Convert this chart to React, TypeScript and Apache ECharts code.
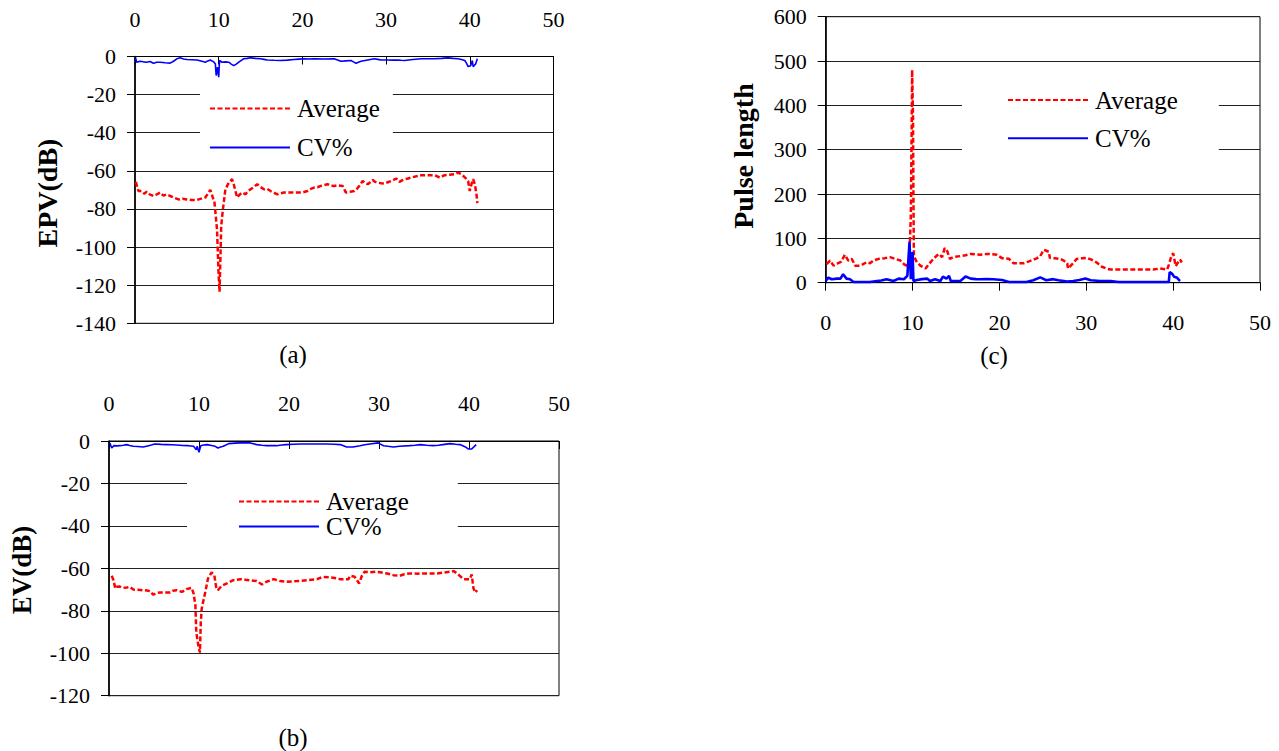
import React, { useEffect, useRef } from "react";
import * as echarts from "echarts";

const FONT = "Liberation Serif";

// ---- (a) EPV(dB) ----
const epvAverage: [number, number][] = [
  [0.1, -65.8], [0.3, -69], [0.4, -70.6], [0.8, -70.6], [1.1, -72], [1.4, -71], [1.8, -72.5], [2.2, -73.2],
  [2.6, -72.4], [3, -71.4], [3.4, -73], [3.8, -72.3], [4.2, -73.2], [4.6, -74], [5.2, -75], [5.7, -74.6],
  [6.2, -75], [6.8, -75.3], [7.4, -75.3], [7.9, -74.6], [8.4, -74], [8.7, -72], [9, -70], [9.3, -74],
  [9.5, -76.7], [9.8, -90.8], [10, -115.4], [10.1, -123.4], [10.2, -106.6], [10.3, -89], [10.5, -80.3],
  [10.8, -69.7], [11.2, -66.2], [11.6, -64.4], [11.8, -67], [12, -70.6], [12.2, -74], [12.5, -72.5],
  [12.8, -71.4], [13.2, -72.3], [13.5, -70.5], [13.8, -69.7], [14.2, -68.5], [14.6, -67], [15, -68.5],
  [15.4, -69.7], [15.8, -69.5], [16.2, -70.6], [16.6, -71.5], [17, -72.3], [17.4, -71.8], [17.8, -71.4],
  [18.6, -71.4], [19.4, -71.4], [20, -71.4], [20.6, -70.6], [21, -69.5], [21.4, -68.8], [21.8, -68.6],
  [22.2, -67.9], [22.6, -67.5], [23, -67], [23.4, -67.8], [23.8, -67.9], [24.3, -67.6], [24.8, -67.9],
  [25.2, -71.4], [25.7, -71], [26.2, -70.6], [26.5, -69.5], [26.8, -67.9], [27.2, -65.3], [27.5, -66.5],
  [27.8, -67], [28.1, -66], [28.4, -64.8], [28.7, -65.8], [29, -66.2], [29.4, -66.5], [29.8, -66.7],
  [30.2, -66], [30.6, -65.3], [31, -64.5], [31.2, -64], [31.6, -65.8], [31.9, -65], [32.2, -64.4],
  [32.6, -64], [33, -63.5], [33.5, -63], [34, -62.3], [35, -62.3], [35.8, -62.3], [36.4, -63.5],
  [37, -62.3], [37.6, -62], [38.2, -61.8], [38.6, -60.9], [39, -61.8], [39.2, -62.6], [39.5, -63.8],
  [39.8, -65.3], [40, -70.6], [40.2, -67], [40.4, -64.4], [40.6, -67], [40.8, -72.3], [40.9, -77],
];
const epvCv: [number, number][] = [
  [0.05, -0.4], [0.2, -3], [0.6, -2.5], [1, -2.8], [1.4, -3], [1.8, -2.6], [2.2, -3.5], [2.6, -3], [3, -3],
  [3.6, -3.3], [4.2, -3.5], [4.6, -2.5], [5, -1.2], [5.4, -0.7], [5.8, -1.3], [6.2, -1.6], [6.8, -1.7],
  [7.4, -1.8], [8, -2.5], [8.4, -3], [8.7, -2.3], [9, -1.8], [9.4, -2.8], [9.6, -3.9], [9.7, -10],
  [9.85, -5.6], [10, -10.9], [10.1, -2.1], [10.4, -3], [10.8, -2.8], [11.2, -3], [11.5, -4], [11.8, -4.8],
  [12.1, -4], [12.4, -3], [12.7, -2], [13, -1.2], [13.4, -1], [13.8, -0.7], [14.4, -1], [15, -1.2],
  [15.4, -1.5], [15.8, -1.8], [16.6, -2], [17.4, -2.1], [18.2, -1.9], [19, -1.6], [19.6, -1.4],
  [20.2, -1.2], [20.8, -1.3], [21.4, -1.2], [22.6, -1.3], [23.8, -1.2], [24.2, -1.8], [24.6, -2.5],
  [25.2, -2.3], [25.8, -2.1], [26.1, -2.8], [26.4, -3.5], [26.7, -3], [27, -2.5], [27.8, -1.8],
  [28.6, -1.2], [29, -1.5], [29.4, -1.8], [30.2, -1.8], [30.8, -1.9], [31.4, -1.8], [31.8, -2],
  [32.2, -2.1], [33.2, -1.6], [34.2, -1.2], [35, -1.2], [35.8, -1.2], [36.6, -1], [37.4, -0.7],
  [38, -1], [38.6, -1.2], [39, -1.6], [39.4, -2.1], [39.6, -3.5], [39.8, -5.3], [40.1, -4.8],
  [40.3, -2.1], [40.4, -5.3], [40.7, -3.9], [40.9, -1.2],
];

// ---- (b) EV(dB) ----
const evAverage: [number, number][] = [
  [0.3, -63.5], [0.5, -65.6], [0.7, -69.5], [0.85, -68.7], [1.2, -68.6], [1.6, -69.2], [2, -69], [2.3, -68.7],
  [2.7, -70], [3.2, -70.1], [3.8, -70.3], [4.2, -70.4], [4.6, -70.8], [4.9, -72.4], [5.3, -71.6], [5.7, -71.4],
  [6.2, -71.4], [6.8, -71.4], [7.1, -70.6], [7.5, -70.3], [8.1, -71.1], [8.6, -69.8], [9.2, -69.2],
  [9.4, -71.9], [9.6, -77.5], [9.7, -90.2], [9.9, -95.7], [10.1, -99.7], [10.2, -85.4], [10.3, -79],
  [10.5, -75], [10.7, -71.1], [11, -64.8], [11.4, -61.9], [11.7, -63.2], [11.9, -68.7], [12.1, -70.3],
  [12.5, -68.3], [13.1, -67.1], [13.8, -65.6], [14.6, -65.1], [15.2, -65.4], [15.7, -65.6], [16.4, -66],
  [17, -67.6], [17.5, -66.3], [18.3, -65.1], [19, -66], [19.7, -66.3], [20.3, -66.2], [20.9, -66],
  [22, -65.6], [23.1, -65.1], [23.8, -64], [24.9, -64.4], [25.7, -65.1], [26.6, -65.1], [26.8, -63.5],
  [27.3, -64], [27.8, -67.1], [28.1, -63.5], [28.4, -61.6], [29, -61.8], [29.7, -61.6], [30.3, -62],
  [30.9, -62.4], [31.6, -63.2], [32.3, -63.5], [32.8, -62.8], [33.4, -62.4], [34.3, -62.5], [35.3, -62.4],
  [36.4, -62.4], [37.2, -62], [37.9, -61.6], [38.3, -61.3], [38.8, -62.9], [39.4, -65.1], [40.1, -65.1],
  [40.3, -62.9], [40.5, -69.5], [40.7, -71.4], [40.9, -70.3],
];
const evCv: [number, number][] = [
  [0.1, -1], [0.3, -3.3], [0.55, -2.2], [0.9, -2.3], [1.2, -2.2], [1.6, -2], [1.96, -1.7], [2.3, -2.1],
  [2.7, -2.5], [3.2, -2.6], [3.8, -2.8], [4.4, -2.2], [4.8, -1.8], [5.1, -1.4], [5.8, -1.6], [6.4, -1.7],
  [7, -1.8], [7.5, -1.9], [8.2, -2.1], [8.8, -2.2], [9.4, -2.5], [9.7, -4.1], [9.8, -2.5], [10, -5.3],
  [10.2, -2.2], [10.5, -1.9], [10.9, -1.7], [11.4, -2.1], [11.8, -2.5], [12.1, -3.3], [12.4, -2.8],
  [12.7, -2.5], [13.3, -1.25], [14, -1], [14.6, -0.9], [15.2, -0.9], [15.7, -0.9], [16.4, -1.7], [17, -2],
  [17.5, -2.2], [18.1, -2.2], [18.6, -2.2], [19.2, -1.9], [19.7, -1.7], [20.5, -1.5], [21.2, -1.4],
  [22.5, -1.4], [24.2, -1.4], [25, -1.5], [25.7, -1.7], [26.4, -2.8], [27.1, -2.8], [27.9, -2.2],
  [28.4, -1.8], [29, -1.4], [29.9, -0.9], [30.5, -2.2], [31, -2.5], [31.6, -2.8], [32.3, -2.5],
  [33.4, -2.2], [34, -2], [34.6, -1.7], [35.3, -2], [36, -2.2], [36.6, -2], [37.1, -1.7], [37.9, -1.25],
  [38.5, -1.5], [39, -1.7], [39.6, -2.8], [39.9, -3.75], [40.3, -3.75], [40.6, -2.5], [40.8, -1.7],
];

// ---- (c) Pulse length ----
const pulseAverage: [number, number][] = [
  [0.1, 42], [0.5, 50], [0.9, 38.5], [1.2, 42], [1.5, 44.6], [1.8, 47.7], [2.2, 63], [2.6, 50], [3, 53.8],
  [3.4, 38.5], [4, 38.5], [4.7, 46], [5.1, 44], [5.5, 50], [6.1, 53.8], [6.8, 55.4], [7.4, 57.7], [8, 53.8],
  [8.6, 50], [9, 42], [9.3, 38.5], [9.6, 40], [9.8, 150], [9.9, 350], [9.95, 480], [10.05, 380],
  [10.1, 200], [10.15, 60], [10.5, 46], [10.9, 38.5], [11.5, 32], [11.8, 40], [12.4, 53.8], [13, 65],
  [13.4, 57.7], [13.7, 78], [14, 70.7], [14.3, 53.8], [14.7, 57.7], [15.5, 60], [16.1, 62], [16.7, 65],
  [17.2, 64], [17.8, 63], [18.6, 65], [19.2, 64], [19.7, 63], [20.3, 55.4], [21.1, 53.8], [21.6, 44],
  [22.2, 44], [22.8, 44], [23.4, 48], [23.9, 52], [24.3, 55], [24.7, 60], [25.1, 74.4], [25.4, 72],
  [25.7, 69.6], [25.8, 56], [26.4, 55], [27, 53.6], [27.4, 50], [27.8, 44], [27.9, 32], [28.3, 40],
  [28.9, 53.6], [29.5, 55], [30, 56], [30.6, 52], [31.2, 45.6], [31.8, 36], [32.3, 32], [32.8, 29.6],
  [33.8, 29.6], [34.7, 29.6], [35.5, 29.6], [36.2, 29.6], [37, 29.6], [37.7, 29.6], [38.5, 32],
  [39.3, 29.6], [39.5, 40], [39.8, 60], [40, 66.4], [40.3, 37.6], [40.5, 44], [40.8, 52], [41, 45.6],
];
const pulseCv: [number, number][] = [
  [0, 3.8], [0.3, 11.5], [0.7, 7.7], [1.3, 9.2], [1.7, 9.2], [2, 19], [2.4, 9.2], [2.8, 7.7], [3.2, 1.5],
  [4, 1.5], [5.1, 1.5], [5.9, 3.8], [6.4, 5], [7, 7.7], [7.8, 3.8], [8.4, 9.2], [9, 7.7], [9.4, 15.4],
  [9.65, 92], [9.8, 7.7], [10, 69], [10.1, 3.8], [10.5, 6], [11.1, 8], [11.7, 9.2], [12, 3.8], [12.6, 7.7],
  [13.2, 3.8], [13.5, 13.8], [13.9, 9.2], [14.2, 15.4], [14.4, 3.8], [15, 3.8], [15.5, 3.8], [16.1, 13.8],
  [16.7, 9.2], [17.3, 8], [17.8, 7.7], [18.5, 8], [19.3, 7.7], [20.3, 6], [21.1, 1.5], [21.6, 1.5],
  [22.4, 1.6], [23.1, 1.6], [23.9, 5.6], [24.7, 12], [25.4, 5.6], [26.2, 8], [26.8, 5.6], [27.8, 2.4],
  [28.5, 4], [29.2, 6], [29.9, 9.6], [30.5, 5.6], [31.6, 4], [32.8, 4], [33.7, 1.6], [35.5, 1.6],
  [37.4, 1.6], [38.9, 1.6], [39.5, 1.6], [39.6, 24], [39.9, 20], [40.1, 13.6], [40.4, 12], [40.7, 5.6],
  [40.8, 4],
];

const legendNames = ["Average", "CV%"];
const yTitles = ["EPV(dB)", "EV(dB)", "Pulse length"];
const captions = ["(a)", "(b)", "(c)"];

const labelStyle = { color: "#000", fontSize: 22, fontFamily: FONT };

function xAxisCfg(gridIndex: number, top: boolean, margin: number) {
  return {
    gridIndex,
    type: "value",
    position: top ? "top" : "bottom",
    min: 0,
    max: 50,
    interval: 10,
    axisLine: { show: true, onZero: false, lineStyle: { color: "#000", width: 1.2 } },
    axisTick: { show: true, inside: top, length: 8, lineStyle: { color: "#000", width: 1 } },
    axisLabel: { ...labelStyle, margin },
    splitLine: { show: false },
  };
}

function yAxisCfg(gridIndex: number, min: number, max: number, interval: number) {
  return {
    gridIndex,
    type: "value",
    min,
    max,
    interval,
    axisLine: { show: true, onZero: false, lineStyle: { color: "#000", width: 1.6 } },
    axisTick: { show: true, inside: false, length: 8, lineStyle: { color: "#000", width: 1 } },
    axisLabel: { ...labelStyle, margin: 19 },
    splitLine: { show: true, lineStyle: { color: "#222", width: 1 } },
  };
}

function legendCfg(left: number, top: number, padding: number[], itemGap: number) {
  return {
    show: true,
    orient: "vertical",
    left,
    top,
    padding,
    itemGap,
    itemWidth: 80,
    itemHeight: 14,
    backgroundColor: "#fff",
    borderWidth: 0,
    selectedMode: false,
    data: legendNames,
    itemStyle: { opacity: 0 },
    textStyle: { color: "#000", fontSize: 25, fontFamily: FONT, lineHeight: 25, padding: [0, 0, 0, 2] },
  };
}

function avgSeries(idx: number, data: [number, number][]) {
  return {
    type: "line",
    name: legendNames[0],
    xAxisIndex: idx,
    yAxisIndex: idx,
    data,
    symbol: "none",
    showSymbol: false,
    lineStyle: { color: "#ff0000", width: 2.5, type: [5, 2.5] },
    itemStyle: { color: "#ff0000" },
    z: 2,
  };
}

function cvSeries(idx: number, data: [number, number][], width: number) {
  return {
    type: "line",
    name: legendNames[1],
    xAxisIndex: idx,
    yAxisIndex: idx,
    data,
    symbol: "none",
    showSymbol: false,
    lineStyle: { color: "#0000ff", width, type: "solid" },
    itemStyle: { color: "#0000ff" },
    z: 3,
  };
}

function textEl(text: string, x: number, y: number, size: number, bold: boolean, rotate: boolean) {
  return {
    type: "text",
    x,
    y,
    rotation: rotate ? Math.PI / 2 : 0,
    style: {
      text,
      fill: "#000",
      fontSize: size,
      fontWeight: bold ? "bold" : "normal",
      fontFamily: FONT,
      align: "center",
      verticalAlign: "middle",
    },
  };
}

const gridBase = { show: true, borderColor: "#000", borderWidth: 1, backgroundColor: "transparent", containLabel: false, outerBoundsMode: "none" };

const option: any = {
  animation: false,
  backgroundColor: "#fff",
  textStyle: { fontFamily: FONT },
  grid: [
    { ...gridBase, left: 135, top: 56.5, width: 418.5, height: 266.8 },
    { ...gridBase, left: 109, top: 441, width: 450, height: 254.7 },
    { ...gridBase, left: 825.7, top: 16.7, width: 434.3, height: 266 },
  ],
  xAxis: [xAxisCfg(0, true, 26), xAxisCfg(1, true, 27), xAxisCfg(2, false, 29)],
  yAxis: [yAxisCfg(0, -140, 0, 20), yAxisCfg(1, -120, 0, 20), yAxisCfg(2, 0, 600, 100)],
  legend: [
    legendCfg(200, 82, [14, 13, 6, 9], 14),
    legendCfg(187, 478, [11, 49, 14, 51], 0),
    legendCfg(962, 78, [9.5, 41, 9, 45], 13.3),
  ],
  series: [
    avgSeries(0, epvAverage),
    cvSeries(0, epvCv, 1.6),
    avgSeries(1, evAverage),
    cvSeries(1, evCv, 1.6),
    avgSeries(2, pulseAverage),
    cvSeries(2, pulseCv, 2.6),
  ],
  graphic: [
    textEl(yTitles[0], 47, 193, 28, true, true),
    textEl(yTitles[1], 22, 570, 27, true, true),
    textEl(yTitles[2], 743, 156, 28, true, true),
    textEl(captions[0], 293, 354, 25, false, false),
    textEl(captions[1], 293, 737, 25, false, false),
    textEl(captions[2], 994, 355, 25, false, false),
  ],
};

export default function App() {
  const ref = useRef<HTMLDivElement>(null);
  useEffect(() => {
    if (!ref.current) return;
    const chart = echarts.init(ref.current, null, { renderer: "svg" });
    chart.setOption(option);
    return () => chart.dispose();
  }, []);
  return (
    <div
      ref={ref}
      style={{ position: "fixed", left: 0, top: 0, width: 1279, height: 751, background: "#fff" }}
    />
  );
}
